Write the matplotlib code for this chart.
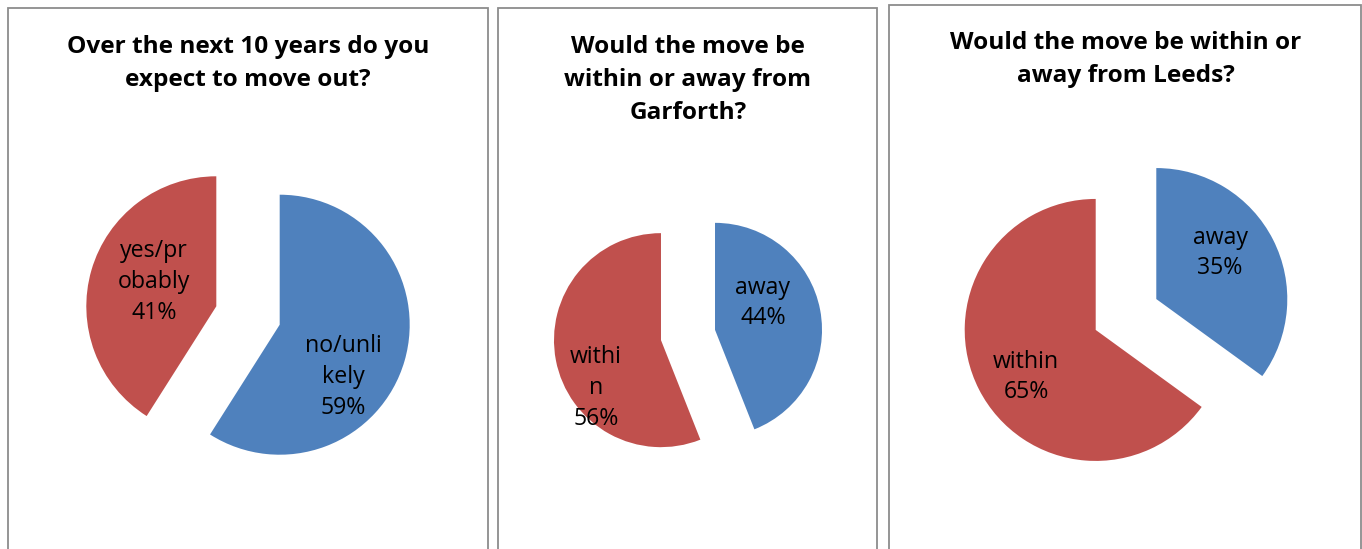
import matplotlib
matplotlib.use("Agg")
import matplotlib.pyplot as plt
from matplotlib.patches import Rectangle

# survey answers, one pie per question
titles = [
    "Over the next 10 years do you\nexpect to move out?",
    "Would the move be\nwithin or away from\nGarforth?",
    "Would the move be within or\naway from Leeds?",
]
labels_q1 = ["no/unli\nkely", "yes/pr\nobably"]
values_q1 = [59, 41]
labels_q2 = ["away", "withi\nn"]
values_q2 = [44, 56]
labels_q3 = ["away", "within"]
values_q3 = [35, 65]

BLUE = "#4F81BD"
RED = "#C0504D"
W, H = 1362, 549

plt.rcParams["font.family"] = ["Open Sans", "DejaVu Sans"]

fig = plt.figure(figsize=(W / 100, H / 100), dpi=100)
ax = fig.add_axes([0, 0, 1, 1])
ax.set_xlim(0, W)
ax.set_ylim(0, H)
ax.set_aspect("equal")
ax.axis("off")

# panel frames (left, top, right) in pixels; bottoms run off the picture
frames = [(8, 8.3, 487.7), (498.3, 8.3, 876.7), (889.3, 4.7, 1361)]
for left, top, right in frames:
    ax.add_patch(Rectangle((left, -20), right - left, H - top + 20, fill=False,
                           edgecolor="#8c8c8c", linewidth=1.3))

# pie layout: centre x, centre y (from top), radius, explode, title y, label spots
layout = [
    (248, 315.5, 130, 33, 47, [(343, 377), (154, 282)]),
    (688, 335, 107, 27.5, 47, [(763, 303), (596, 388)]),
    (1126, 314.5, 131, 34, 43, [(1220, 253), (1026, 377)]),
]
data = [(labels_q1, values_q1), (labels_q2, values_q2), (labels_q3, values_q3)]

for (cx, cy, r, ex, ty, spots), (labels, values), title in zip(layout, data, titles):
    ax.pie(values, center=(cx, H - cy), radius=r, explode=[ex, ex],
           colors=[BLUE, RED], startangle=90, counterclock=False,
           wedgeprops=dict(linewidth=0), frame=True)
    for (lx, ly), lab, v in zip(spots, labels, values):
        ax.text(lx, H - ly, "%s\n%d%%" % (lab, v), ha="center", va="center",
                fontsize=16.7, linespacing=1.38, color="black")
    for i, line in enumerate(title.split("\n")):
        ax.text(cx, H - ty - 33 * i, line, ha="center", va="center",
                fontsize=17.6, fontweight="bold")

ax.set_xlim(0, W)
ax.set_ylim(0, H)
ax.axis("off")
fig.savefig("out.png", dpi=100)
